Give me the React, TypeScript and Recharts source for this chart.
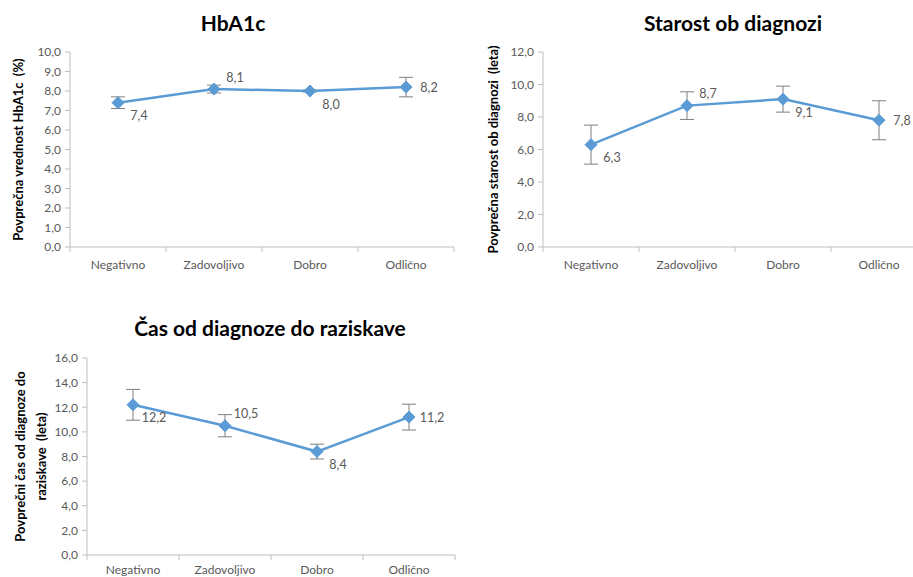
import React from 'react';
import { LineChart, Line, XAxis, YAxis, ErrorBar, LabelList, Label } from 'recharts';

const CATEGORIES = ['Negativno', 'Zadovoljivo', 'Dobro', 'Odlično'];

const HBA1C_MEAN = [7.4, 8.1, 8.0, 8.2];
const HBA1C_ERR = [0.3, 0.2, 0.05, 0.5];
const HBA1C_TICKS = [0, 1, 2, 3, 4, 5, 6, 7, 8, 9, 10];

const AGE_MEAN = [6.3, 8.7, 9.1, 7.8];
const AGE_ERR = [1.2, 0.85, 0.8, 1.2];
const AGE_TICKS = [0, 2, 4, 6, 8, 10, 12];

const DURATION_MEAN = [12.2, 10.5, 8.4, 11.2];
const DURATION_ERR = [1.25, 0.9, 0.6, 1.05];
const DURATION_TICKS = [0, 2, 4, 6, 8, 10, 12, 14, 16];

// where Excel put each data label relative to its point
const LABEL_POS = ['below', 'above', 'below', 'right'];

const FONT = 'Lato, "Open Sans", sans-serif';
const BLUE = '#5b9bd5';
const AXIS = '#bfbfbf';
const TEXT = '#595959';

const fmt = (v: number) => v.toFixed(1).replace('.', ',');

const Diamond = ({ cx, cy }: any) => {
  if (cx == null || cy == null) return null;
  const r = 6;
  return (
    <polygon
      points={`${cx},${cy - r} ${cx + r},${cy} ${cx},${cy + r} ${cx - r},${cy}`}
      fill={BLUE}
      stroke={BLUE}
    />
  );
};

const PointLabel = ({ x, y, value, index }: any) => {
  const pos = LABEL_POS[index];
  const dy = pos === 'below' ? 13 : pos === 'above' ? -12 : 0;
  const dx = pos === 'right' ? 23 : 21;
  return (
    <text
      x={x + dx}
      y={y + dy}
      textAnchor="middle"
      dominantBaseline="central"
      fill={TEXT}
      fontSize={12.5}
      fontFamily={FONT}
    >
      {fmt(value)}
    </text>
  );
};

interface PanelProps {
  title: string;
  yLabel: string[];
  values: number[];
  errors: number[];
  ticks: number[];
  left: number;
  top: number;
  width: number;
  height: number;
  axisWidth: number;
  plotTop: number;
  plotBottom: number;
  rightPad: number;
  labelX: number[];
  tickGap: number;
  titleX: number;
  titleY: number;
}

const Panel = (p: PanelProps) => {
  const data = CATEGORIES.map((name, i) => ({ name, value: p.values[i], err: p.errors[i] }));
  const plotWidth = p.width - p.axisWidth - p.rightPad;
  const band = plotWidth / CATEGORIES.length;

  const CatTick = ({ x, y, payload, index }: any) => (
    <g>
      <line x1={x - band / 2} x2={x - band / 2} y1={y} y2={y + 5} stroke={AXIS} />
      {index === CATEGORIES.length - 1 && (
        <line x1={x + band / 2} x2={x + band / 2} y1={y} y2={y + 5} stroke={AXIS} />
      )}
      <text x={x} y={y + p.tickGap} textAnchor="middle" dominantBaseline="central" fill={TEXT} fontSize={12} fontFamily={FONT}>
        {payload.value}
      </text>
    </g>
  );

  const YTitle = ({ viewBox }: any) => {
    const cy = viewBox.y + viewBox.height / 2;
    return (
      <g>
        {p.yLabel.map((line, i) => (
          <text
            key={i}
            x={viewBox.x + p.labelX[i]}
            y={cy}
            transform={`rotate(-90 ${viewBox.x + p.labelX[i]} ${cy})`}
            textAnchor="middle"
            dominantBaseline="central"
            fontWeight="bold"
            fontSize={13}
            fontFamily={FONT}
            fill="#000"
            style={{ whiteSpace: 'pre' }}
          >
            {line}
          </text>
        ))}
      </g>
    );
  };

  return (
    <div style={{ position: 'absolute', left: p.left, top: p.top, width: p.width, height: p.height }}>
      <div
        style={{
          position: 'absolute',
          left: p.titleX - 200,
          width: 400,
          top: p.titleY - 14,
          textAlign: 'center',
          fontFamily: FONT,
          fontWeight: 'bold',
          fontSize: 21,
          lineHeight: '28px',
          color: '#000',
        }}
      >
        {p.title}
      </div>
      <LineChart
        width={p.width}
        height={p.height}
        data={data}
        margin={{ top: p.plotTop, right: p.rightPad, left: 0, bottom: 0 }}
      >
        <XAxis
          dataKey="name"
          scale="band"
          height={p.height - p.plotBottom}
          axisLine={{ stroke: AXIS }}
          tickLine={false}
          tickSize={0}
          tickMargin={0}
          tick={<CatTick />}
          interval={0}
        />
        <YAxis
          width={p.axisWidth}
          domain={[p.ticks[0], p.ticks[p.ticks.length - 1]]}
          ticks={p.ticks}
          interval={0}
          tickFormatter={fmt}
          axisLine={{ stroke: AXIS }}
          tickLine={{ stroke: AXIS }}
          tickSize={5}
          tickMargin={4}
          tick={{ fill: TEXT, fontSize: 12, fontFamily: FONT }}
        >
          <Label content={<YTitle />} />
        </YAxis>
        <Line
          type="linear"
          dataKey="value"
          stroke={BLUE}
          strokeWidth={2.5}
          dot={<Diamond />}
          activeDot={false}
          isAnimationActive={false}
        >
          <ErrorBar dataKey="err" width={7} stroke="#7f7f7f" strokeWidth={1} direction="y" isAnimationActive={false} />
          <LabelList dataKey="value" content={<PointLabel />} />
        </Line>
      </LineChart>
    </div>
  );
};

export default function App() {
  return (
    <div
      style={{
        position: 'absolute',
        left: 0,
        top: 0,
        width: 913,
        height: 577,
        overflow: 'hidden',
        background: '#fff',
      }}
    >
      <Panel
        title="HbA1c"
        yLabel={['Povprečna vrednost HbA1c  (%)']}
        values={HBA1C_MEAN}
        errors={HBA1C_ERR}
        ticks={HBA1C_TICKS}
        left={0}
        top={0}
        width={460}
        height={280}
        axisWidth={70}
        plotTop={52}
        plotBottom={247}
        rightPad={6}
        labelX={[18]}
        tickGap={17}
        titleX={233}
        titleY={23}
      />
      <Panel
        title="Starost ob diagnozi"
        yLabel={['Povprečna starost ob diagnozi  (leta)']}
        values={AGE_MEAN}
        errors={AGE_ERR}
        ticks={AGE_TICKS}
        left={460}
        top={0}
        width={467}
        height={280}
        axisWidth={83}
        plotTop={52}
        plotBottom={247}
        rightPad={0}
        labelX={[33]}
        tickGap={17}
        titleX={273}
        titleY={23}
      />
      <Panel
        title="Čas od diagnoze do raziskave"
        yLabel={['Povprečni čas od diagnoze do', 'raziskave  (leta)']}
        values={DURATION_MEAN}
        errors={DURATION_ERR}
        ticks={DURATION_TICKS}
        left={0}
        top={300}
        width={460}
        height={277}
        axisWidth={87}
        plotTop={58}
        plotBottom={255}
        rightPad={5}
        labelX={[20, 41]}
        tickGap={14}
        titleX={270}
        titleY={28}
      />
    </div>
  );
}
